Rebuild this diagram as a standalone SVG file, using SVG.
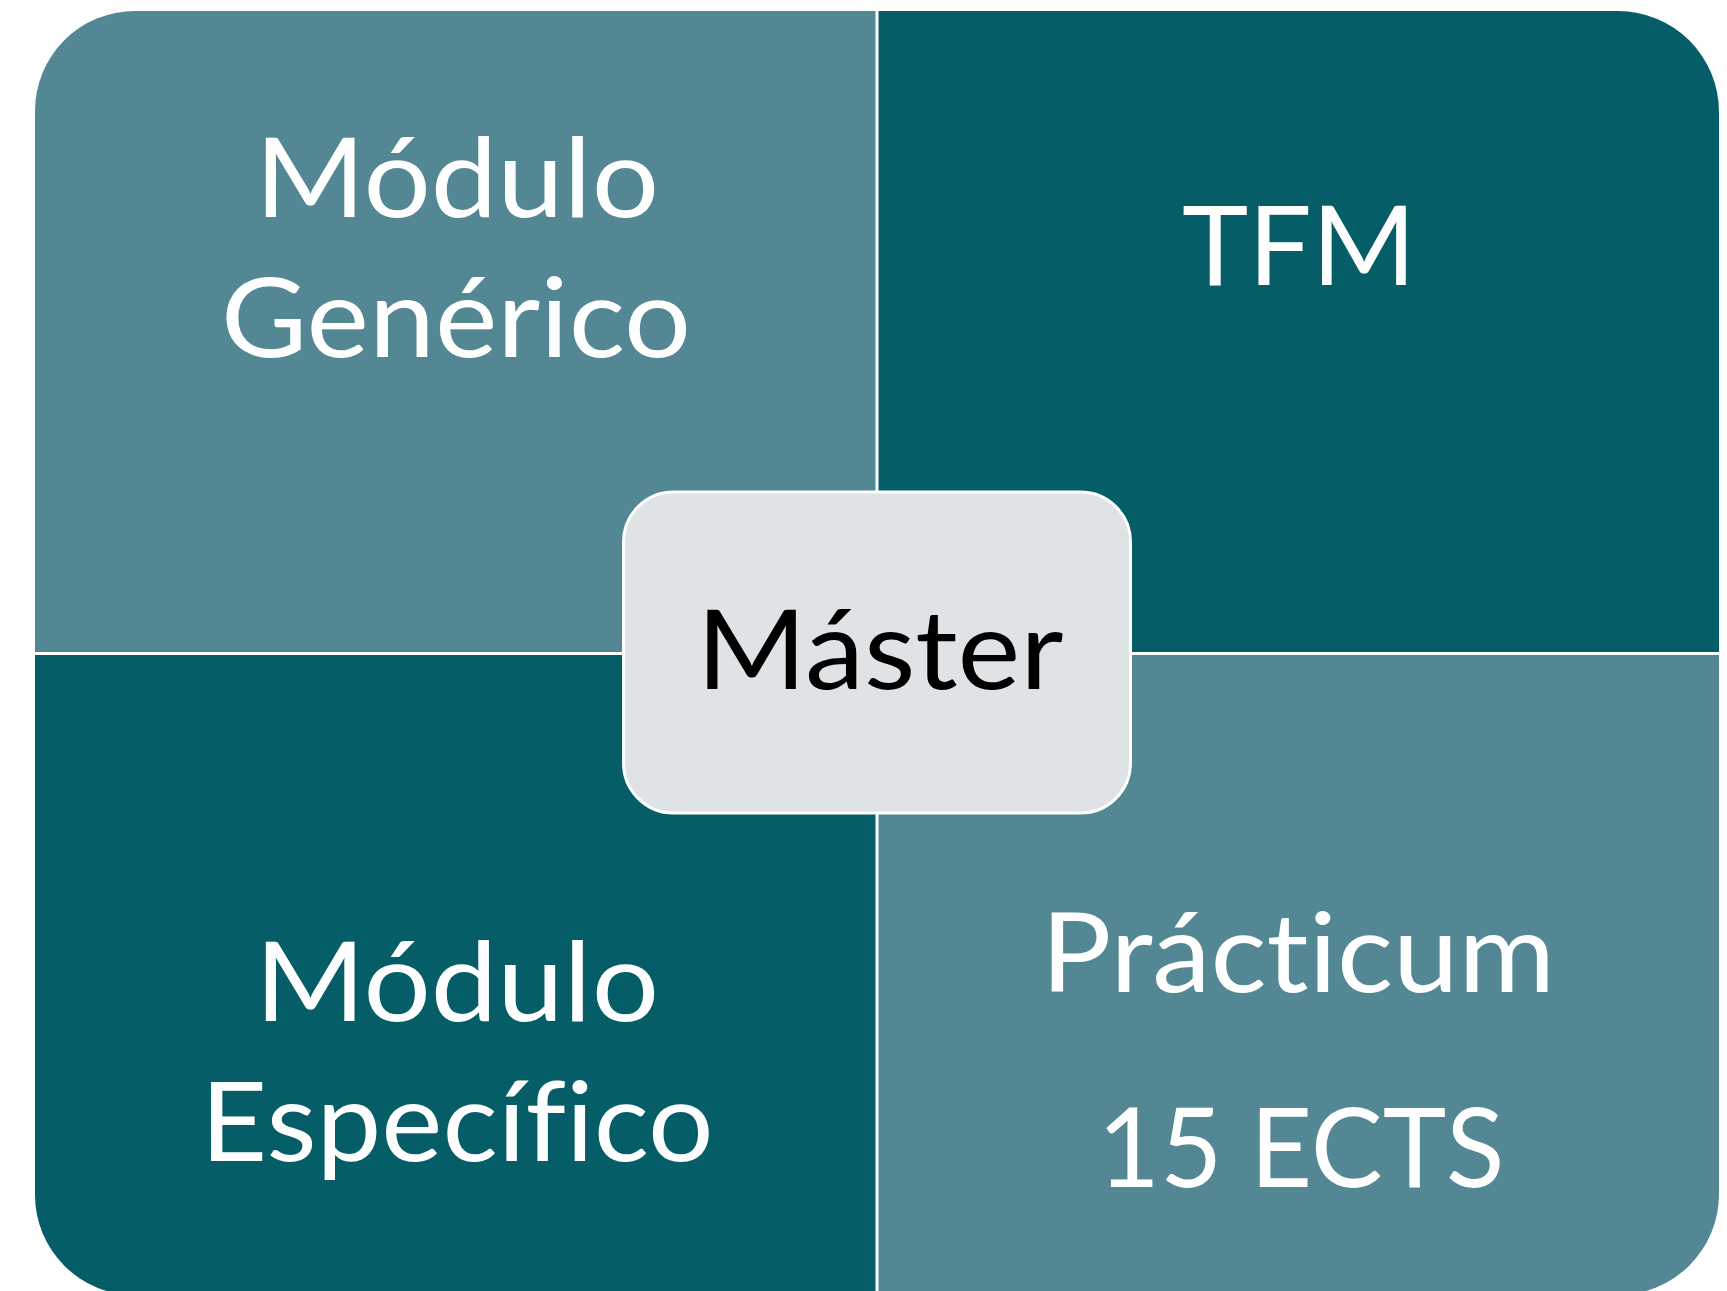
<svg xmlns="http://www.w3.org/2000/svg" width="1727" height="1291" viewBox="0 0 1727 1291">
  <style>
    .light { fill: #528793; }
    .dark { fill: #055E67; }
    .lbl { font-family: Lato, "Open Sans", "Liberation Sans", sans-serif; font-size: 111px; fill: #FFFFFF; text-anchor: middle; font-variant-ligatures: none; font-feature-settings: "liga" 0; }
    .center { fill: #DFE3E6; stroke: #FFFFFF; stroke-width: 3; }
    .ctr { fill: #000000; }
  </style>
  <rect x="0" y="0" width="1727" height="1291" fill="#FFFFFF"/>
  <g id="connectors"></g>
  <g id="modulo-generico">
    <path class="light" d="M35,111 A100,100 0 0 1 135,11 H875.5 V652 H35 Z"/>
    <text class="lbl" x="457" y="217" textLength="404" lengthAdjust="spacingAndGlyphs">Módulo</text>
    <text class="lbl" x="456" y="357" textLength="470" lengthAdjust="spacingAndGlyphs">Genérico</text>
  </g>
  <g id="tfm">
    <path class="dark" d="M878.5,11 H1618 A101,101 0 0 1 1719,112 V652 H878.5 Z"/>
    <text class="lbl" x="1299" y="285" textLength="234" lengthAdjust="spacingAndGlyphs">TFM</text>
  </g>
  <g id="modulo-especifico">
    <path class="dark" d="M35,655 H875.5 V1295 H135 A100,100 0 0 1 35,1195 Z"/>
    <text class="lbl" x="457" y="1021" textLength="404" lengthAdjust="spacingAndGlyphs">Módulo</text>
    <text class="lbl" x="457" y="1161" textLength="513" lengthAdjust="spacingAndGlyphs">Específico</text>
  </g>
  <g id="practicum">
    <path class="light" d="M878.5,655 H1719 V1194 A101,101 0 0 1 1618,1295 H878.5 Z"/>
    <text class="lbl" x="1298" y="992" textLength="514" lengthAdjust="spacingAndGlyphs">Prácticum</text>
    <text class="lbl" x="1301" y="1187" textLength="407" lengthAdjust="spacingAndGlyphs">15 ECTS</text>
  </g>
  <g id="master">
    <rect class="center" x="623.5" y="492" width="507" height="321" rx="50" ry="50"/>
    <text class="lbl ctr" x="880" y="689" textLength="367" lengthAdjust="spacingAndGlyphs">Máster</text>
  </g>
</svg>
